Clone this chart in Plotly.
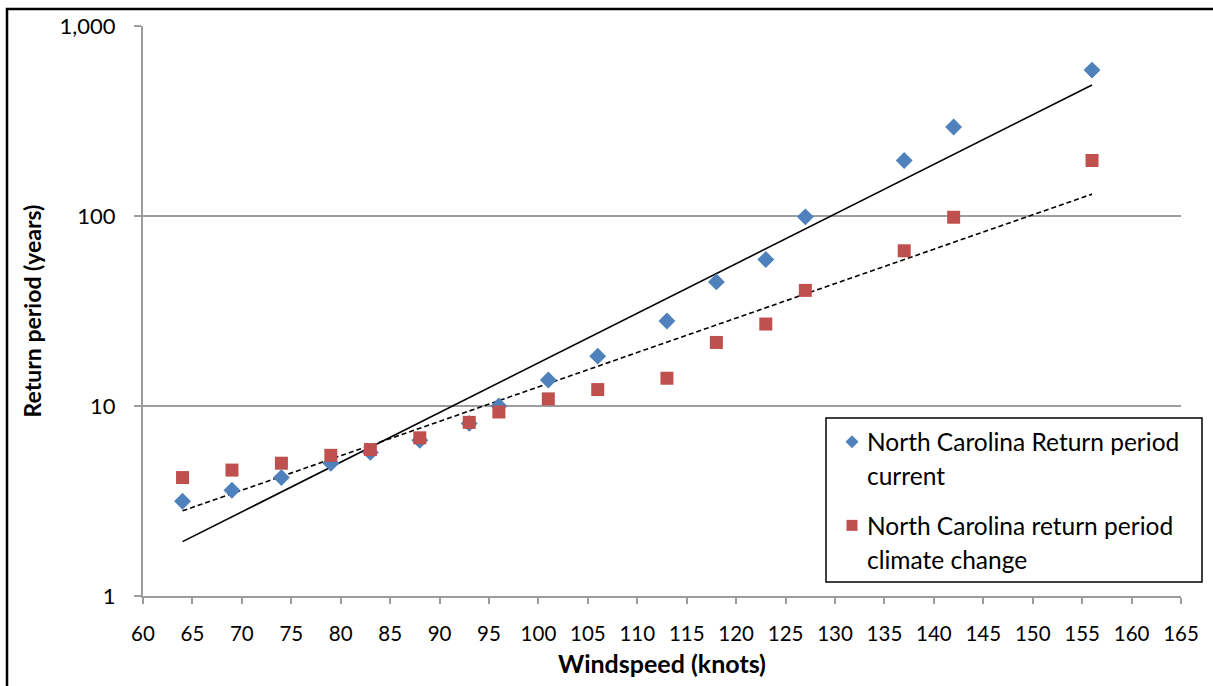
import numpy as np
import plotly.graph_objects as go

# ---- data ----
wind_current = [64, 69, 74, 79, 83, 88, 93, 96, 101, 106, 113, 118, 123, 127, 137, 142, 156]
rp_current = [3.15, 3.6, 4.2, 5.0, 5.7, 6.6, 8.1, 10.0, 13.7, 18.3, 28.0, 45.0, 59.0, 99.0, 196.0, 294.0, 586.0]
wind_climate = [64, 69, 74, 79, 83, 88, 93, 96, 101, 106, 113, 118, 123, 127, 137, 142, 156]
rp_climate = [4.2, 4.6, 5.0, 5.5, 5.9, 6.8, 8.2, 9.3, 10.9, 12.2, 14.0, 21.6, 27.0, 40.6, 65.6, 98.5, 196.0]

legend_lines_current = ["North Carolina Return period", "current"]
legend_lines_climate = ["North Carolina return period", "climate change"]
y_tickvals = [1, 10, 100, 1000]
y_ticktext = ["1", "10", "100", "1,000"]
x_title = "Windspeed (knots)"
y_title = "Return period (years)"

BLUE = "#4F81BD"
RED = "#C0504D"
GRID = "#9d9d9d"
FONT = "Lato, Open Sans, sans-serif"


def exp_trend(x, y):
    b, a = np.polyfit(np.array(x, float), np.log10(np.array(y, float)), 1)
    xs = np.array([min(x), max(x)], float)
    return xs, 10 ** (a + b * xs)


fig = go.Figure()

# trendlines (exponential fits of each series)
tx, ty = exp_trend(wind_current, rp_current)
fig.add_trace(go.Scatter(x=tx, y=ty, mode="lines", line=dict(color="black", width=1.6),
                         showlegend=False, hoverinfo="skip"))
tx2, ty2 = exp_trend(wind_climate, rp_climate)
fig.add_trace(go.Scatter(x=tx2, y=ty2, mode="lines", line=dict(color="black", width=1.6, dash="5px,3px"),
                         showlegend=False, hoverinfo="skip"))

# points
fig.add_trace(go.Scatter(x=wind_current, y=rp_current, mode="markers", name=" ".join(legend_lines_current),
                         marker=dict(symbol="diamond", size=13, color=BLUE), showlegend=False))
fig.add_trace(go.Scatter(x=wind_climate, y=rp_climate, mode="markers", name=" ".join(legend_lines_climate),
                         marker=dict(symbol="square", size=13, color=RED), showlegend=False))

# legend built manually (box, markers on overlay unit axes, text)
L_left, L_right, L_top, L_bot = 826, 1202, 419, 584
PL, PR, PT, PB = 143, 1181, 25, 598


def px(xp):
    return (xp - PL) / (PR - PL)


def py(yp):
    return (PB - yp) / (PB - PT)


fig.add_trace(go.Scatter(x=[px(852)], y=[py(443)], mode="markers", xaxis="x2", yaxis="y2",
                         marker=dict(symbol="diamond", size=10, color=BLUE), showlegend=False, hoverinfo="skip"))
fig.add_trace(go.Scatter(x=[px(852)], y=[py(527)], mode="markers", xaxis="x2", yaxis="y2",
                         marker=dict(symbol="square", size=11, color=RED), showlegend=False, hoverinfo="skip"))

shapes = [
    dict(type="rect", xref="paper", yref="paper", x0=px(L_left), x1=px(L_right), y0=py(L_bot), y1=py(L_top),
         line=dict(color="black", width=1.5), fillcolor="white", layer="below"),
    dict(type="rect", xref="paper", yref="paper", x0=px(7), x1=1.3, y0=-0.4, y1=py(8),
         line=dict(color="black", width=2.5), fillcolor="rgba(0,0,0,0)"),
]

annotations = []
for (text, yy) in [(legend_lines_current[0], 443), (legend_lines_current[1], 477),
                   (legend_lines_climate[0], 527), (legend_lines_climate[1], 561)]:
    annotations.append(dict(text=text, x=px(865), y=py(yy), xref="paper", yref="paper",
                            xanchor="left", yanchor="middle", showarrow=False,
                            font=dict(family=FONT, size=24.5, color="black")))

fig.update_layout(
    width=1213, height=686,
    margin=dict(l=PL, r=1213 - PR, t=PT, b=686 - PB),
    paper_bgcolor="white", plot_bgcolor="white",
    font=dict(family=FONT, color="black"),
    shapes=shapes, annotations=annotations,
    showlegend=False,
    xaxis=dict(range=[60, 165], dtick=5, tick0=60, showgrid=False, zeroline=False,
               showline=True, linecolor=GRID, linewidth=2,
               ticks="outside", ticklen=6, tickwidth=2, tickcolor=GRID,
               tickfont=dict(family=FONT, size=20.5), ticklabelstandoff=12,
               title=dict(text="<b>" + x_title + "</b>", font=dict(family=FONT, size=25), standoff=12)),
    yaxis=dict(type="log", range=[0, 3], tickvals=y_tickvals, ticktext=y_ticktext,
               showgrid=True, gridcolor=GRID, gridwidth=2, zeroline=False,
               showline=True, linecolor=GRID, linewidth=2,
               ticks="outside", ticklen=7, tickwidth=2, tickcolor=GRID,
               tickfont=dict(family=FONT, size=22), ticklabelstandoff=14,
               title=dict(text="<b>" + y_title + "</b>", font=dict(family=FONT, size=23), standoff=12)),
    xaxis2=dict(overlaying="x", range=[0, 1], visible=False, fixedrange=True),
    yaxis2=dict(overlaying="y", range=[0, 1], visible=False, fixedrange=True),
)

fig.write_html("out.html")
